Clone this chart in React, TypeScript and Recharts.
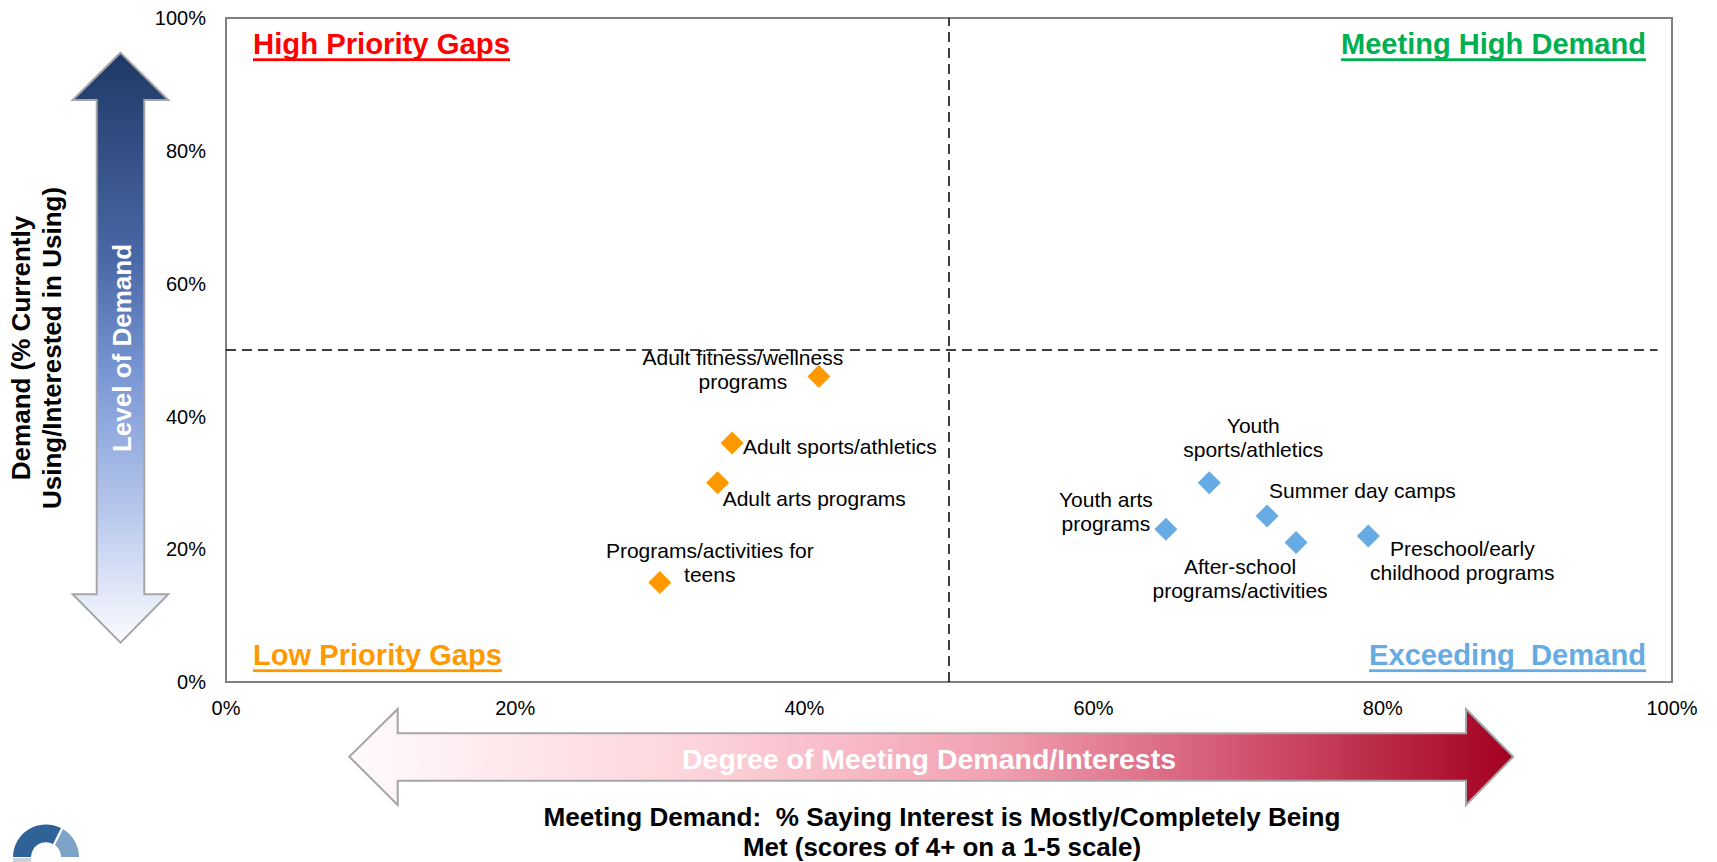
import { ScatterChart, Scatter, XAxis, YAxis, ReferenceLine, ReferenceArea } from "recharts";

const FONT = '"Liberation Sans", Arial, sans-serif';
const NARROW = '"Liberation Sans Narrow", "Arial Narrow", "Liberation Sans", Arial, sans-serif';

// axis ticks (percent)
const axisTicks = [0, 20, 40, 60, 80, 100];

// low priority gaps (orange)
const gapNames = [
  "Adult fitness/wellness programs",
  "Adult sports/athletics",
  "Adult arts programs",
  "Programs/activities for teens",
];
const gapMet = [41, 35, 34, 30];
const gapDemand = [46, 36, 30, 15];

// exceeding demand (blue)
const exceedNames = [
  "Youth sports/athletics",
  "Summer day camps",
  "Youth arts programs",
  "After-school programs/activities",
  "Preschool/early childhood programs",
];
const exceedMet = [68, 72, 65, 74, 79];
const exceedDemand = [30, 25, 23, 21, 22];

const gapData = gapNames.map((name, i) => ({ name, x: gapMet[i], y: gapDemand[i] }));
const exceedData = exceedNames.map((name, i) => ({ name, x: exceedMet[i], y: exceedDemand[i] }));

// where each point's label sits relative to the marker
type Place = { lines: string[]; dx: number; dy: number; anchor: "start" | "middle" };
const labelPlace: Record<string, Place> = {
  "Adult fitness/wellness programs": { lines: ["Adult fitness/wellness", "programs"], dx: -76, dy: -20, anchor: "middle" },
  "Adult sports/athletics": { lines: ["Adult sports/athletics"], dx: 11, dy: 3, anchor: "start" },
  "Adult arts programs": { lines: ["Adult arts programs"], dx: 5, dy: 15, anchor: "start" },
  "Programs/activities for teens": { lines: ["Programs/activities for", "teens"], dx: 50, dy: -32, anchor: "middle" },
  "Youth sports/athletics": { lines: ["Youth", "sports/athletics"], dx: 44, dy: -58, anchor: "middle" },
  "Summer day camps": { lines: ["Summer day camps"], dx: 2, dy: -26, anchor: "start" },
  "Youth arts programs": { lines: ["Youth arts", "programs"], dx: -60, dy: -30, anchor: "middle" },
  "After-school programs/activities": { lines: ["After-school", "programs/activities"], dx: -56, dy: 23, anchor: "middle" },
  "Preschool/early childhood programs": { lines: ["Preschool/early", "childhood programs"], dx: 94, dy: 12, anchor: "middle" },
};

const diamond = (color: string) => (props: any) => {
  const { cx, cy, payload } = props;
  const r = 11.5;
  const p = labelPlace[payload.name];
  return (
    <g>
      <polygon points={`${cx},${cy - r} ${cx + r},${cy} ${cx},${cy + r} ${cx - r},${cy}`} fill={color} />
      {p && (
        <text
          x={cx + p.dx}
          y={cy + p.dy}
          textAnchor={p.anchor}
          dominantBaseline="central"
          fontFamily={FONT}
          fontSize={21}
          fill="#000"
        >
          {p.lines.map((l, i) => (
            <tspan key={i} x={cx + p.dx} dy={i === 0 ? 0 : 24}>
              {l}
            </tspan>
          ))}
        </text>
      )}
    </g>
  );
};

// quadrant captions, bold and underlined
const quadLabel = (text: string, color: string, corner: string, w: number) => (props: any) => {
  const { x, y, width, height } = props.viewBox;
  const left = corner[1] === "l";
  const top = corner[0] === "t";
  const tx = left ? x + 27 : x + width - 26;
  const ty = top ? y + 36 : y + height - 17;
  const ux = left ? tx : tx - w;
  return (
    <g>
      <text
        x={tx}
        y={ty}
        textAnchor={left ? "start" : "end"}
        fill={color}
        fontSize={29}
        fontWeight="bold"
        fontFamily={FONT}
        textLength={w}
        lengthAdjust="spacingAndGlyphs"
        style={{ whiteSpace: "pre" }}
      >
        {text}
      </text>
      <rect x={ux} y={ty + 4.3} width={w} height={2.8} fill={color} />
    </g>
  );
};

const pct = (v: number) => `${v}%`;

const Decorations = () => (
  <svg width={1717} height={862} style={{ position: "absolute", left: 0, top: 0, pointerEvents: "none" }}>
    <defs>
      <linearGradient id="demandGrad" gradientUnits="userSpaceOnUse" x1="0" y1="52" x2="0" y2="643">
        <stop offset="0" stopColor="#1f3864" />
        <stop offset="0.35" stopColor="#4a68a6" />
        <stop offset="0.55" stopColor="#7b98d6" />
        <stop offset="0.78" stopColor="#b8c8ec" />
        <stop offset="1" stopColor="#fbfcff" />
      </linearGradient>
      <linearGradient id="meetGrad" gradientUnits="userSpaceOnUse" x1="349" y1="0" x2="1514" y2="0">
        <stop offset="0" stopColor="#fffafb" />
        <stop offset="0.3" stopColor="#fdd3db" />
        <stop offset="0.55" stopColor="#f2a2b2" />
        <stop offset="0.78" stopColor="#d0506c" />
        <stop offset="1" stopColor="#a3001f" />
      </linearGradient>
    </defs>

    <polygon
      points="120.5,52.7 168.3,100 144.3,100 144.3,594.3 168.3,594.3 120.5,642.7 72.7,594.3 96.7,594.3 96.7,100 72.7,100"
      fill="url(#demandGrad)"
      stroke="#a6a6a6"
      strokeWidth={2}
    />
    <text
      transform="translate(131,348) rotate(-90)"
      textAnchor="middle"
      fill="#fff"
      fontFamily={FONT}
      fontWeight="bold"
      fontSize={26}
    >
      Level of Demand
    </text>

    <text transform="translate(30,348) rotate(-90)" textAnchor="middle" fontFamily={FONT} fontWeight="bold" fontSize={26} fill="#000">
      Demand (% Currently
    </text>
    <text transform="translate(61,348) rotate(-90)" textAnchor="middle" fontFamily={FONT} fontWeight="bold" fontSize={26} fill="#000">
      Using/Interested in Using)
    </text>

    <polygon
      points="349.3,756.7 397.7,709 397.7,733.3 1466,733.3 1466,709 1513.3,756.7 1466,805 1466,780.7 397.7,780.7 397.7,805"
      fill="url(#meetGrad)"
      stroke="#a6a6a6"
      strokeWidth={2}
    />
    <text
      x={929}
      y={769}
      textAnchor="middle"
      fill="#fff"
      fontFamily={NARROW}
      fontWeight="bold"
      fontSize={28}
      textLength={494}
      lengthAdjust="spacingAndGlyphs"
    >
      Degree of Meeting Demand/Interests
    </text>

    <text
      x={942}
      y={826}
      textAnchor="middle"
      fill="#000"
      fontFamily={NARROW}
      fontWeight="bold"
      fontSize={26}
      textLength={797}
      lengthAdjust="spacingAndGlyphs"
      style={{ whiteSpace: "pre" }}
    >
      Meeting Demand:  % Saying Interest is Mostly/Completely Being
    </text>
    <text
      x={942}
      y={856}
      textAnchor="middle"
      fill="#000"
      fontFamily={NARROW}
      fontWeight="bold"
      fontSize={26}
      textLength={398}
      lengthAdjust="spacingAndGlyphs"
    >
      Met (scores of 4+ on a 1-5 scale)
    </text>

    {/* logo fragment, bottom left */}
    <path d="M 13 857 A 33 33 0 0 1 61 828 L 53 844 A 15 15 0 0 0 31 857 Z" fill="#2f6296" />
    <path d="M 63 829 A 33 33 0 0 1 79 857 L 61 857 A 15 15 0 0 0 55 845 Z" fill="#7ea3c8" />
    <rect x={13} y={858} width={18} height={4} fill="#c9d3de" />
  </svg>
);

export default function App() {
  return (
    <div style={{ position: "absolute", left: 0, top: 0, width: 1717, height: 862, background: "#fff" }}>
      <ScatterChart width={1717} height={862} margin={{ top: 18, right: 45, bottom: 150, left: 166 }}>
        <XAxis
          type="number"
          dataKey="x"
          domain={[0, 100]}
          ticks={axisTicks}
          tickFormatter={pct}
          axisLine={false}
          tickLine={false}
          tickSize={0}
          tickMargin={19}
          height={30}
          tick={{ fontSize: 20, fill: "#000", fontFamily: FONT }}
        />
        <YAxis
          type="number"
          dataKey="y"
          domain={[0, 100]}
          ticks={axisTicks}
          tickFormatter={pct}
          axisLine={false}
          tickLine={false}
          tickSize={0}
          tickMargin={20}
          width={60}
          tick={{ fontSize: 20, fill: "#000", fontFamily: FONT }}
        />
        <ReferenceArea x1={0} x2={50} y1={50} y2={100} fill="none" stroke="none" label={quadLabel("High Priority Gaps", "#ff0000", "tl", 257)} />
        <ReferenceArea x1={50} x2={100} y1={50} y2={100} fill="none" stroke="none" label={quadLabel("Meeting High Demand", "#00b050", "tr", 305)} />
        <ReferenceArea x1={0} x2={50} y1={0} y2={50} fill="none" stroke="none" label={quadLabel("Low Priority Gaps", "#ff9900", "bl", 249)} />
        <ReferenceArea x1={50} x2={100} y1={0} y2={50} fill="none" stroke="none" label={quadLabel("Exceeding  Demand", "#66abe3", "br", 277)} />
        <ReferenceArea x1={0} x2={100} y1={0} y2={100} fill="none" stroke="#808080" strokeWidth={2} />
        <ReferenceLine x={50} stroke="#000" strokeWidth={1.5} strokeDasharray="10 6" />
        <ReferenceLine segment={[{ x: 0, y: 50 }, { x: 99, y: 50 }]} stroke="#000" strokeWidth={1.5} strokeDasharray="10 6" />
        <Scatter data={gapData} fill="#ff9900" shape={diamond("#ff9900")} isAnimationActive={false} />
        <Scatter data={exceedData} fill="#66abe3" shape={diamond("#66abe3")} isAnimationActive={false} />
      </ScatterChart>
      <Decorations />
    </div>
  );
}
